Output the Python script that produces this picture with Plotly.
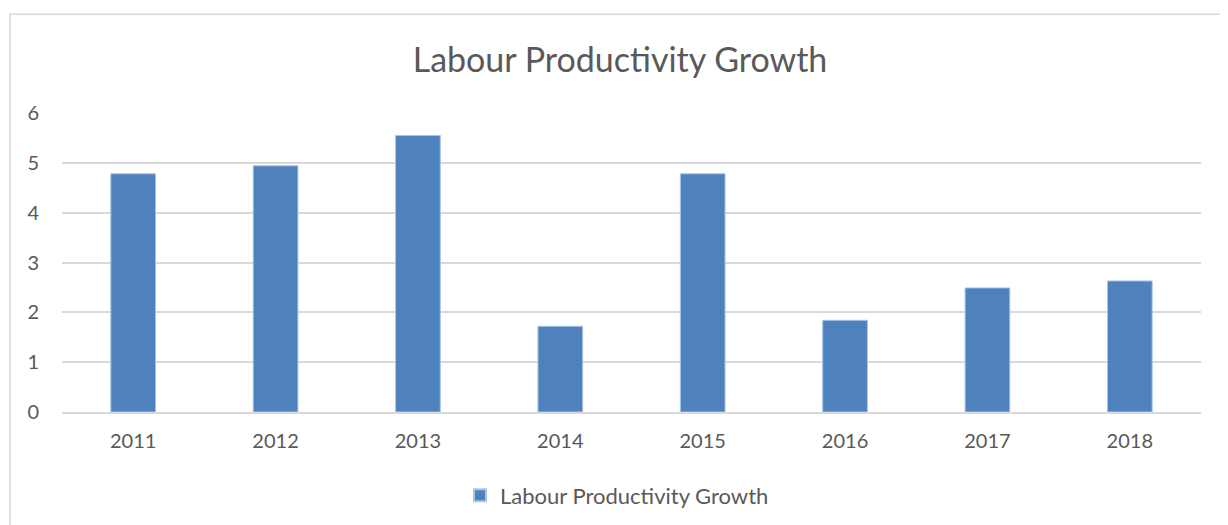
import plotly.graph_objects as go

years = ["2011", "2012", "2013", "2014", "2015", "2016", "2017", "2018"]
growth = [4.78, 4.94, 5.55, 1.72, 4.78, 1.84, 2.49, 2.63]
series_name = "Labour Productivity Growth"
y_ticks = [0, 1, 2, 3, 4, 5, 6]

FONT = "Lato"
TXT = "#595959"

fig = go.Figure()
fig.add_trace(go.Bar(
    x=years, y=growth, name=series_name,
    marker=dict(color="#4F81BD", line=dict(color="#A9C4E8", width=1)),
    showlegend=True,
))

# page has an 8px body margin, so positions are expressed in figure coords
W, H = 1228, 525
l, r, t, b = 54, 35, 105.3, 121.3
pw, ph = W - l - r, H - t - b

fig.update_layout(
    width=W, height=H,
    margin=dict(l=l, r=r, t=t, b=b, pad=0),
    paper_bgcolor="white", plot_bgcolor="white",
    bargap=0.686,
    title=dict(text="Labour Productivity Growth", x=612 / W, xanchor="center",
               y=1 - 52 / H, yanchor="middle",
               font=dict(family=FONT, size=34, color=TXT)),
    font=dict(family=FONT, size=20, color=TXT),
    xaxis=dict(showgrid=False, showline=True, linecolor="#D9D9D9", linewidth=2,
               ticks="", tickfont=dict(size=20, color=TXT), ticklabelstandoff=10),
    yaxis=dict(range=[0, 6], tickvals=y_ticks, showgrid=True, gridcolor="#D9D9D9",
               gridwidth=2, zeroline=False, showline=False, ticks="",
               tickfont=dict(size=20, color=TXT), ticklabelstandoff=22),
    legend=dict(orientation="h", x=(452 - l) / pw, xanchor="left",
                y=(H - 487 - b) / ph, yanchor="middle",
                font=dict(family=FONT, size=22, color=TXT),
                itemsizing="constant"),
    shapes=[dict(type="rect", xref="paper", yref="paper",
                 x0=(2 - l) / pw, x1=(W + 20 - l) / pw,
                 y0=(H - 540 - b) / ph, y1=(H - 6.7 - b) / ph,
                 line=dict(color="#D9D9D9", width=1.5), fillcolor="rgba(0,0,0,0)",
                 layer="below")],
)

fig.write_html("out.html")
